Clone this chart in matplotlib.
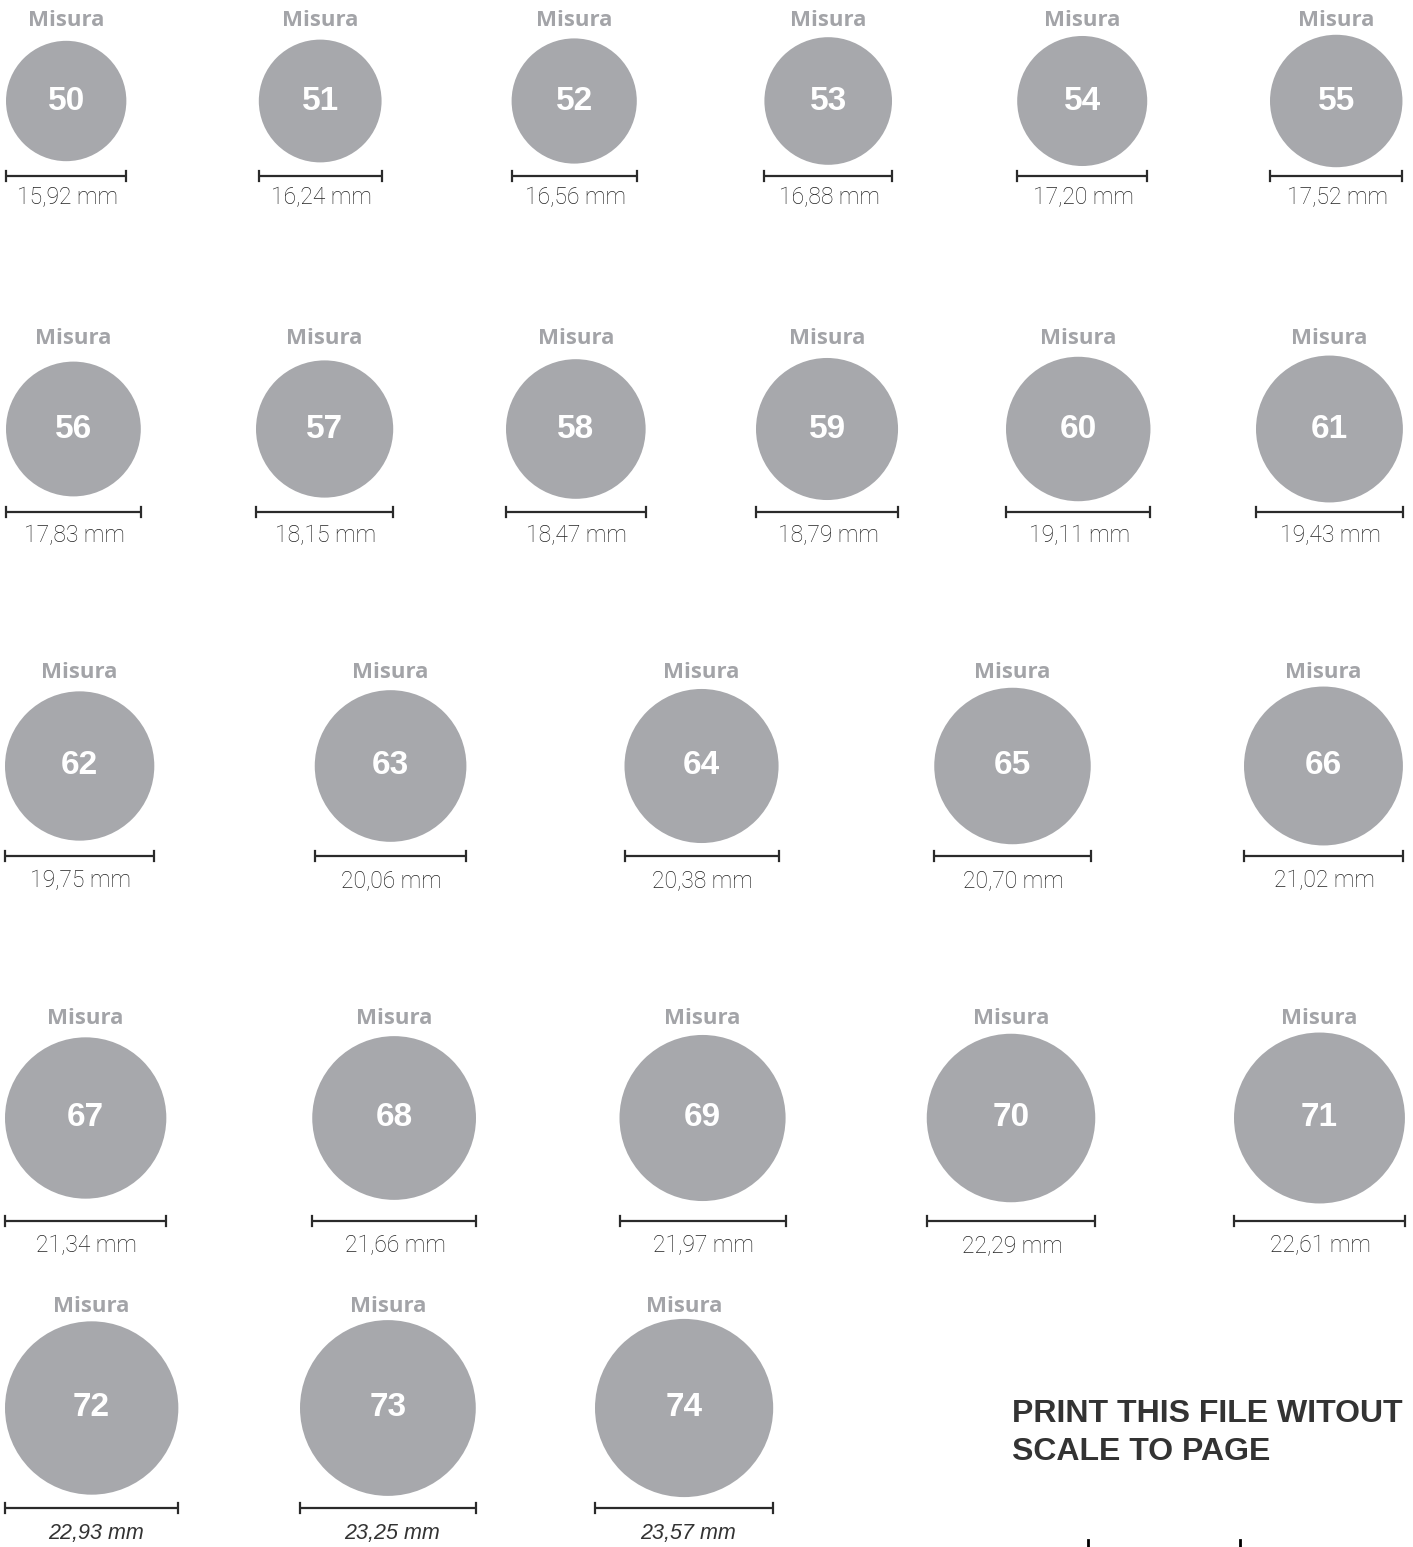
import matplotlib
matplotlib.use('Agg')
import matplotlib.pyplot as plt
from matplotlib.patches import Circle

# misure anello e diametro interno in mm
sizes = [50, 51, 52, 53, 54, 55,
         56, 57, 58, 59, 60, 61,
         62, 63, 64, 65, 66,
         67, 68, 69, 70, 71,
         72, 73, 74]
diam_mm = [15.92, 16.24, 16.56, 16.88, 17.20, 17.52,
           17.83, 18.15, 18.47, 18.79, 19.11, 19.43,
           19.75, 20.06, 20.38, 20.70, 21.02,
           21.34, 21.66, 21.97, 22.29, 22.61,
           22.93, 23.25, 23.57]
diam_labels = [f"{d:.2f}".replace('.', ',') + " mm" for d in diam_mm]

# layout righe: numero cerchi, x iniziale, passo, y centro, y barra, y testo mm, y "Misura"
rows = [
    (6, 6, 252.8, 101, 176, 198, 20),
    (6, 6, 250.0, 429, 512, 536, 339),
    (5, 5, 309.75, 766, 856, 881, 672),
    (5, 5, 307.25, 1118, 1221, 1246, 1019),
    (3, 5, 295.0, 1408, 1508, 1533, 1306),
]
PX_PER_MM = 7.56

W, H = 1413, 1547
fig = plt.figure(figsize=(W / 100, H / 100), dpi=100)
fig.patch.set_facecolor('white')
ax = fig.add_axes([0, 0, 1, 1])
ax.set_xlim(0, W)
ax.set_ylim(H, 0)
ax.axis('off')

circle_col = '#a7a8ac'
misura_col = '#a3a4a8'
bar_col = '#2b2b2b'

i = 0
for r_idx, (n, x0, step, cy, by, ty, my) in enumerate(rows):
    last_row = r_idx == len(rows) - 1
    for k in range(n):
        d = diam_mm[i] * PX_PER_MM
        left = x0 + k * step
        cx = left + d / 2
        ax.add_patch(Circle((cx, cy), d / 2, facecolor=circle_col, edgecolor='none'))
        ax.text(cx, cy, str(sizes[i]), ha='center', va='center', color='white',
                fontsize=24, fontweight='bold', family='Liberation Sans')
        ax.text(cx, my, "Misura", ha='center', va='center', color=misura_col,
                fontsize=16, fontweight='bold', family='Open Sans')
        # barra del diametro
        ax.plot([left, left + d], [by, by], color=bar_col, lw=1.6, solid_capstyle='butt')
        ax.plot([left, left], [by - 5, by + 5], color=bar_col, lw=1.6)
        ax.plot([left + d, left + d], [by - 5, by + 5], color=bar_col, lw=1.6)
        if last_row:
            ax.text(cx + 4, ty, diam_labels[i], ha='center', va='center', color='#333333',
                    fontsize=15.5, style='italic', family='Liberation Sans')
        else:
            ax.text(cx + 1, ty, diam_labels[i], ha='center', va='center', color='#222222',
                    fontsize=16.5, fontweight='light', family='Roboto')
        i += 1

ax.text(1012, 1414, "PRINT THIS FILE WITOUT", ha='left', va='center', color='#333333',
        fontsize=23, fontweight='bold', family='Liberation Sans')
ax.text(1012, 1452, "SCALE TO PAGE", ha='left', va='center', color='#333333',
        fontsize=23, fontweight='bold', family='Liberation Sans')

# segni di taglio in basso
for x in (1088, 1240):
    ax.plot([x, x], [1540, 1547], color='black', lw=2)

fig.savefig('out.png', dpi=100, facecolor='white')
